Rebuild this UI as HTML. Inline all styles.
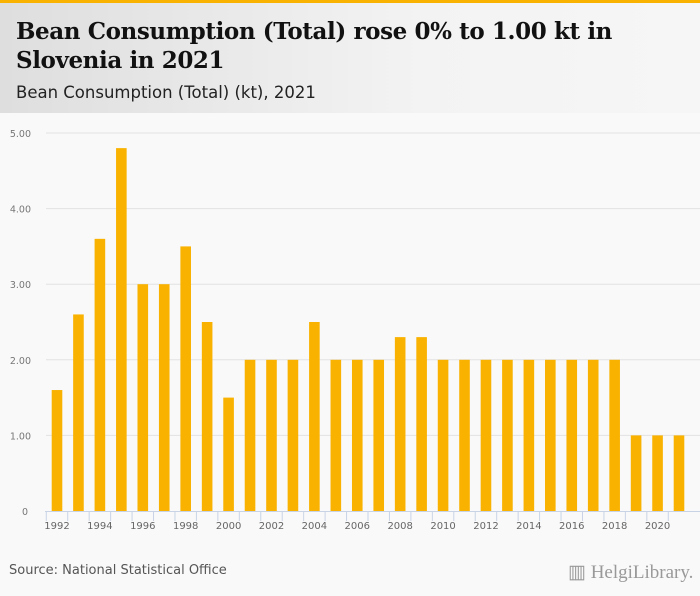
<!DOCTYPE html>
<html><head><meta charset="utf-8"><style>
body{margin:0;width:700px;height:596px;background:#f9f9f9;font-family:"DejaVu Sans","Liberation Sans",sans-serif;overflow:hidden;position:relative}
#top{position:absolute;left:0;top:0;width:700px;height:3px;background:#f9b200}
#hdr{position:absolute;left:0;top:3px;width:700px;height:110px;background:linear-gradient(90deg,#dedede,#f3f3f3 60%,#f6f6f6)}
h1{position:absolute;left:16px;top:14px;margin:0;font-family:"DejaVu Serif","Liberation Serif",serif;font-weight:bold;font-size:23px;line-height:29px;color:#111;letter-spacing:-0.4px}
#sub{position:absolute;left:16px;top:80px;font-size:16.5px;color:#222}
#src{position:absolute;left:9px;top:563px;font-size:13px;color:#555}
#logo{position:absolute;left:568px;top:561px;font-family:"Liberation Serif",serif;font-size:19px;color:#999}
</style></head><body>
<div id="top"></div>
<div id="hdr">
<h1>Bean Consumption (Total) rose 0% to 1.00 kt in<br>Slovenia in 2021</h1>
<div id="sub">Bean Consumption (Total) (kt), 2021</div>
</div>
<svg id="chart" width="700" height="596" style="position:absolute;left:0;top:0"></svg>
<div id="src">Source: National Statistical Office</div>
<div id="logo">▥ HelgiLibrary.</div>
<script>
const years=[1992,1993,1994,1995,1996,1997,1998,1999,2000,2001,2002,2003,2004,2005,2006,2007,2008,2009,2010,2011,2012,2013,2014,2015,2016,2017,2018,2019,2020,2021];
const values=[1.6,2.6,3.6,4.8,3.0,3.0,3.5,2.5,1.5,2,2,2,2.5,2,2,2,2.3,2.3,2,2,2,2,2,2,2,2,2,1,1,1];
const yTicks=[0,1,2,3,4,5];
const NS="http://www.w3.org/2000/svg",svg=document.getElementById('chart');
const y0=511,yTop=133,yMax=5;
function y(v){return y0-(v/yMax)*(y0-yTop);}
const firstC=57,lastC=679,step=(lastC-firstC)/(years.length-1);
function x(i){return firstC+i*step;}
function mk(t,a,txt){const e=document.createElementNS(NS,t);for(const k in a)e.setAttribute(k,a[k]);if(txt!==undefined)e.textContent=txt;svg.appendChild(e);return e;}
yTicks.forEach(t=>{
 if(t>0){const g=mk('line',{x1:46,x2:700,y1:y(t),y2:y(t),stroke:'#e2e2e2','stroke-width':1});
 
 }
 const l=mk('text',{x:t?31:28,y:y(t)+4,'font-size':9.5,fill:'#777','text-anchor':'end','font-family':'DejaVu Sans,sans-serif'},t?t.toFixed(2):'0');
 
 
});
values.forEach((v,i)=>{
 const b=mk('rect',{x:x(i)-5.3,y:y(v),width:10.6,height:y0-y(v),fill:'#f9b200'});
 
 
});
const ax=mk('line',{x1:45,x2:700,y1:y0+0.5,y2:y0+0.5,stroke:'#c8d4e6','stroke-width':1});


for(let i=0;i<years.length;i++){
 const tx=x(i)-step/2;
 const tk=mk('line',{x1:tx,x2:tx,y1:y0,y2:y0+10,stroke:'#c8d4e6','stroke-width':1});
 
 
}
years.forEach((yr,i)=>{ if(i%2===0){
 const l=mk('text',{x:x(i),y:y0+18,'font-size':10,fill:'#666','text-anchor':'middle','font-family':'DejaVu Sans,sans-serif'},yr);
 
 
}});
</script>
</body></html>
